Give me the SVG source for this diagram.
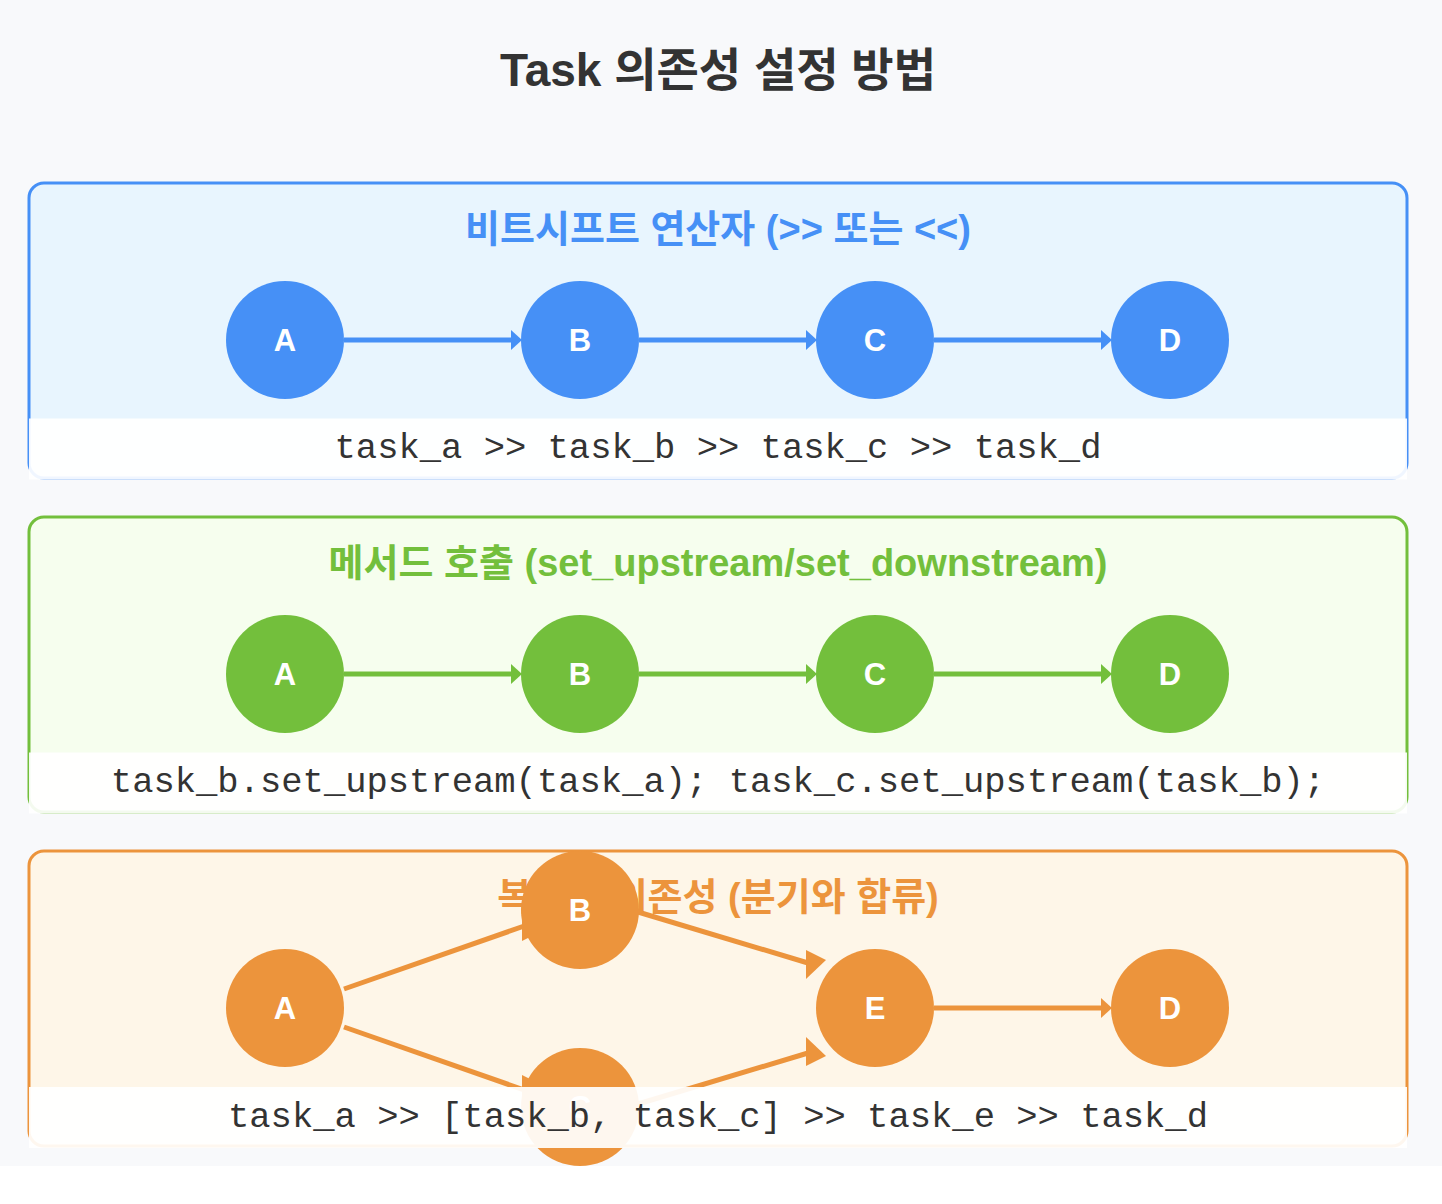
<svg xmlns="http://www.w3.org/2000/svg" width="1442" height="1204" viewBox="0 0 1442 1204">
<defs>
<style>
.title{font-family:"Liberation Sans","Noto Sans CJK KR",sans-serif;font-weight:bold;font-size:46px;fill:#333333;text-anchor:middle}
.ptitle{font-family:"Liberation Sans","Noto Sans CJK KR",sans-serif;font-weight:bold;font-size:38px;text-anchor:middle}
.code{font-family:"Liberation Mono",monospace;font-size:35.5px;fill:#333333;text-anchor:middle}
.lbl{font-family:"Liberation Sans",sans-serif;font-weight:bold;font-size:31px;fill:#ffffff;text-anchor:middle}
.bar{fill:#ffffff;fill-opacity:0.92}
.blue{fill:#4690F6}
.green{fill:#73BF3C}
.orange{fill:#EC943C}
.lb{stroke:#4690F6;stroke-width:5;fill:none}
.lg{stroke:#73BF3C;stroke-width:5;fill:none}
.lo{stroke:#EC943C;stroke-width:5;fill:none}
</style>
<marker id="ab" markerUnits="userSpaceOnUse" markerWidth="11" markerHeight="20" refX="0" refY="10" orient="auto"><path d="M0,0 L11,10 L0,20 Z" fill="#4690F6"/></marker>
<marker id="ag" markerUnits="userSpaceOnUse" markerWidth="11" markerHeight="20" refX="0" refY="10" orient="auto"><path d="M0,0 L11,10 L0,20 Z" fill="#73BF3C"/></marker>
<marker id="ao" markerUnits="userSpaceOnUse" markerWidth="11" markerHeight="20" refX="0" refY="10" orient="auto"><path d="M0,0 L11,10 L0,20 Z" fill="#EC943C"/></marker>
</defs>
<rect x="0" y="0" width="1442" height="1166" fill="#F8F9FB"/>
<text class="title" x="718" y="86">Task 의존성 설정 방법</text>

<!-- Panel 1 -->
<g id="panel-bitshift">
<rect x="29" y="183" width="1378" height="295" rx="15" fill="#E8F5FE" stroke="#4690F6" stroke-width="3"/>
<text class="ptitle" x="718" y="242" fill="#4690F6">비트시프트 연산자 (&gt;&gt; 또는 &lt;&lt;)</text>
</g>
<g id="connectors-1">
<line class="lb" x1="344" y1="340" x2="511" y2="340" marker-end="url(#ab)"/>
<line class="lb" x1="639" y1="340" x2="806" y2="340" marker-end="url(#ab)"/>
<line class="lb" x1="934" y1="340" x2="1101" y2="340" marker-end="url(#ab)"/>
</g>
<g id="p1-A"><circle class="blue" cx="285" cy="340" r="59"/><text class="lbl" x="285" y="351">A</text></g>
<g id="p1-B"><circle class="blue" cx="580" cy="340" r="59"/><text class="lbl" x="580" y="351">B</text></g>
<g id="p1-C"><circle class="blue" cx="875" cy="340" r="59"/><text class="lbl" x="875" y="351">C</text></g>
<g id="p1-D"><circle class="blue" cx="1170" cy="340" r="59"/><text class="lbl" x="1170" y="351">D</text></g>
<g id="p1-code">
<rect class="bar" x="29" y="418.5" width="1378" height="61"/>
<text class="code" x="718" y="458">task_a &gt;&gt; task_b &gt;&gt; task_c &gt;&gt; task_d</text>
</g>

<!-- Panel 2 -->
<g id="panel-method">
<rect x="29" y="517" width="1378" height="295" rx="15" fill="#F6FEEE" stroke="#73BF3C" stroke-width="3"/>
<text class="ptitle" x="718" y="576" fill="#73BF3C">메서드 호출 (set_upstream/set_downstream)</text>
</g>
<g id="connectors-2">
<line class="lg" x1="344" y1="674" x2="511" y2="674" marker-end="url(#ag)"/>
<line class="lg" x1="639" y1="674" x2="806" y2="674" marker-end="url(#ag)"/>
<line class="lg" x1="934" y1="674" x2="1101" y2="674" marker-end="url(#ag)"/>
</g>
<g id="p2-A"><circle class="green" cx="285" cy="674" r="59"/><text class="lbl" x="285" y="685">A</text></g>
<g id="p2-B"><circle class="green" cx="580" cy="674" r="59"/><text class="lbl" x="580" y="685">B</text></g>
<g id="p2-C"><circle class="green" cx="875" cy="674" r="59"/><text class="lbl" x="875" y="685">C</text></g>
<g id="p2-D"><circle class="green" cx="1170" cy="674" r="59"/><text class="lbl" x="1170" y="685">D</text></g>
<g id="p2-code">
<rect class="bar" x="29" y="752.5" width="1378" height="61"/>
<text class="code" x="718" y="792">task_b.set_upstream(task_a); task_c.set_upstream(task_b);</text>
</g>

<!-- Panel 3 -->
<g id="panel-complex">
<rect x="29" y="851" width="1378" height="295" rx="15" fill="#FEF6E8" stroke="#EC943C" stroke-width="3"/>
<text class="ptitle" x="718" y="910" fill="#EC943C">복잡한 의존성 (분기와 합류)</text>
</g>
<g id="connectors-3">
<line class="lo" x1="344" y1="989" x2="530" y2="924"/>
<polygon class="orange" points="522,912 542,931 522,941"/>
<line class="lo" x1="344" y1="1027" x2="530" y2="1092"/>
<polygon class="orange" points="522,1075 542,1085 522,1104"/>
<line class="lo" x1="638" y1="912" x2="808" y2="963"/>
<polygon class="orange" points="806,950 826,960 806,979"/>
<line class="lo" x1="638" y1="1104" x2="808" y2="1053"/>
<polygon class="orange" points="806,1066 826,1056 806,1037"/>
<line class="lo" x1="934" y1="1008" x2="1101" y2="1008" marker-end="url(#ao)"/>
</g>
<g id="p3-A"><circle class="orange" cx="285" cy="1008" r="59"/><text class="lbl" x="285" y="1019">A</text></g>
<g id="p3-B"><circle class="orange" cx="580" cy="910" r="59"/><text class="lbl" x="580" y="921">B</text></g>
<g id="p3-C"><circle class="orange" cx="580" cy="1107" r="59"/><text class="lbl" x="580" y="1118">C</text></g>
<g id="p3-E"><circle class="orange" cx="875" cy="1008" r="59"/><text class="lbl" x="875" y="1019">E</text></g>
<g id="p3-D"><circle class="orange" cx="1170" cy="1008" r="59"/><text class="lbl" x="1170" y="1019">D</text></g>
<g id="p3-code">
<rect class="bar" x="29" y="1087" width="1378" height="61"/>
<text class="code" x="718" y="1127">task_a &gt;&gt; [task_b, task_c] &gt;&gt; task_e &gt;&gt; task_d</text>
</g>
</svg>
